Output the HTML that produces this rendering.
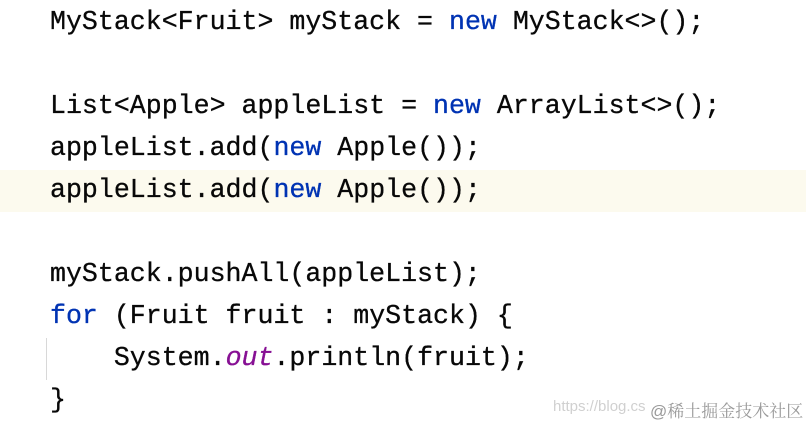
<!DOCTYPE html>
<html><head><style>
html,body{margin:0;padding:0;}
body{width:806px;height:428px;background:#fff;position:relative;overflow:hidden;font-family:"Liberation Mono",monospace;}
.hl{position:absolute;left:0;top:170px;width:806px;height:42px;background:#fcfaee;}
.l{position:absolute;left:50px;font-size:26.6px;line-height:42px;height:42px;white-space:pre;color:#080808;-webkit-text-stroke:0.3px currentColor;}
.k{color:#0033b3;}
.o{color:#871094;font-style:italic;}
.guide{position:absolute;left:46px;top:338px;width:1px;height:42px;background:#d8d8d8;}
.wm{position:absolute;left:553px;top:398px;font-family:"Liberation Sans",sans-serif;font-size:15px;color:#d0d0d0;white-space:nowrap;}
.wm2{position:absolute;left:650px;top:397px;font-family:"Liberation Sans","Noto Serif CJK SC",serif;font-size:17px;color:#9a9a9a;white-space:nowrap;}
</style></head><body>
<div class="hl"></div>
<div class="guide"></div>
<div class="l" style="top:1px">MyStack&lt;Fruit&gt; myStack = <span class="k">new</span> MyStack&lt;&gt;();</div>
<div class="l" style="top:85px">List&lt;Apple&gt; appleList = <span class="k">new</span> ArrayList&lt;&gt;();</div>
<div class="l" style="top:127px">appleList.add(<span class="k">new</span> Apple());</div>
<div class="l" style="top:169px">appleList.add(<span class="k">new</span> Apple());</div>
<div class="l" style="top:253px">myStack.pushAll(appleList);</div>
<div class="l" style="top:295px"><span class="k">for</span> (Fruit fruit : myStack) {</div>
<div class="l" style="top:337px">    System.<span class="o">out</span>.println(fruit);</div>
<div class="l" style="top:379px">}</div>
<div class="wm">https://blog.cs</div>
<div class="wm2">@稀土掘金技术社区</div>
</body></html>
